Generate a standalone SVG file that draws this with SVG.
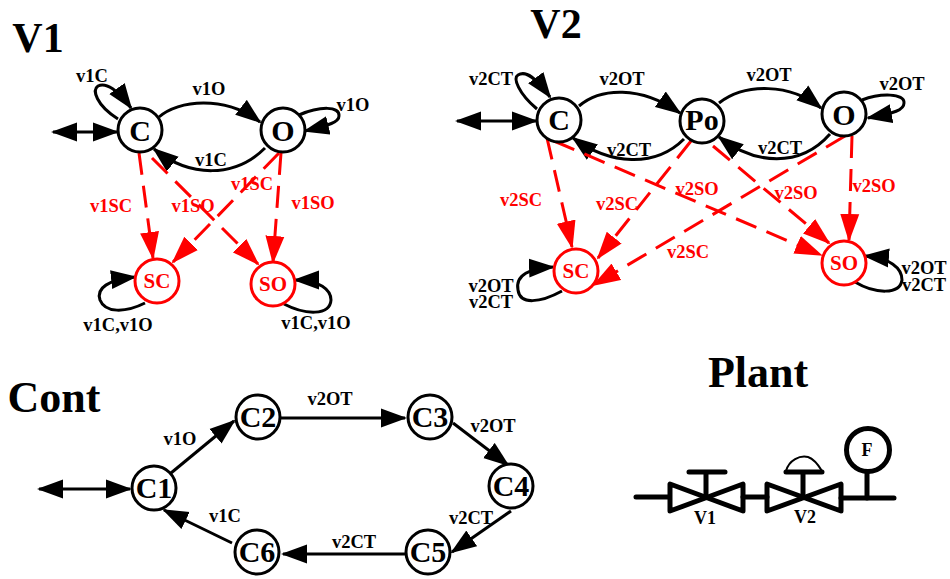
<svg xmlns="http://www.w3.org/2000/svg" width="950" height="579" viewBox="0 0 950 579">
<style>
text{font-family:"Liberation Serif","Times New Roman",serif;font-weight:700;text-anchor:middle;fill:#000}
.t{font-size:42px}
.w{font-size:44px}
.n{font-size:30px}
.c{font-size:30px}
.s{font-size:21px;fill:#f00}
.l{font-size:18.5px}
.f{font-size:18px}
.r{fill:#f00}
circle{fill:#fff;stroke:#000;stroke-width:3}
circle.red{stroke:#f00}
circle.g{stroke-width:5}
.e{fill:none;stroke:#000;stroke-width:3;marker-end:url(#a)}
.b{marker-start:url(#as)}
.d{fill:none;stroke:#f00;stroke-width:3;stroke-dasharray:22 11;marker-end:url(#ar)}
.p{fill:none;stroke:#000;stroke-width:5;stroke-linecap:round;stroke-linejoin:round}
</style>
<defs>
<marker id="a" markerUnits="userSpaceOnUse" markerWidth="26" markerHeight="20" refX="24" refY="10" orient="auto"><path d="M0 .5L26 10L0 19.500z" fill="#000"/></marker>
<marker id="as" markerUnits="userSpaceOnUse" markerWidth="26" markerHeight="20" refX="2" refY="10" orient="auto"><path d="M0 10L26 .5V19.500z" fill="#000"/></marker>
<marker id="ar" markerUnits="userSpaceOnUse" markerWidth="28" markerHeight="20" refX="26" refY="10" orient="auto"><path d="M0 .5L28 10L0 19.500z" fill="#f00"/></marker>
</defs>

<g id="connectors">
<!-- V1 -->
<path class="e b" d="M53 132H117"/>
<path class="e" d="M118 119C96 105 92 90 98 86C106 82 118 90 131 108"/>
<path class="e" d="M159 117C178 100 225 95 260 122"/>
<path class="e" d="M265 148C235 178 190 178 154 149"/>
<path class="e" d="M299 115C320 106 340 106 339 116C339 122 330 125 305 131"/>
<path class="d" d="M139 153L153 258"/>
<path class="d" d="M152 158L258 264"/>
<path class="d" d="M279 153L173 262"/>
<path class="d" d="M281 153L273 262"/>
<path class="e" d="M145 303C125 313 105 313 100 300C96 288 108 280 135 277"/>
<path class="e" d="M284 304C305 315 330 316 331 300C331 290 320 280 295 280"/>
<!-- V2 -->
<path class="e b" d="M457 121H536"/>
<path class="e" d="M537 109C518 93 513 78 518 75C526 70 536 78 550 97"/>
<path class="e" d="M579 106C600 88 640 85 680 113"/>
<path class="e" d="M684 139C655 168 610 165 573 138"/>
<path class="e" d="M719 103C745 83 790 83 821 108"/>
<path class="e" d="M830 134C800 168 755 165 719 137"/>
<path class="e" d="M862 100C880 93 905 93 904 103C904 110 895 113 868 118"/>
<path class="d" d="M547 138L572 247"/>
<path class="d" d="M691 141L598 258"/>
<path class="d" d="M845 136L594 285"/>
<path class="d" d="M554 141L821 255"/>
<path class="d" d="M713 146L829 243"/>
<path class="d" d="M852 136L849 240"/>
<path class="e" d="M562 291C540 303 520 305 518 290C515 275 530 268 553 267"/>
<path class="e" d="M855 282C875 294 900 295 902 280C902 268 890 258 865 256"/>
<!-- Cont -->
<path class="e b" d="M39 489H130"/>
<path class="e" d="M171 473L234 421"/>
<path class="e" d="M280 418H405"/>
<path class="e" d="M453 423L508 465"/>
<path class="e" d="M511 511L452 552"/>
<path class="e" d="M407 554H283"/>
<path class="e" d="M232 543L164 510"/>
</g>

<g id="title-v1"><text class="t" x="38" y="52">V1</text></g>
<g id="v1-C"><circle cx="140" cy="130" r="22"/><text class="n" x="140" y="141">C</text></g>
<g id="v1-O"><circle cx="283" cy="130" r="22"/><text class="n" x="283" y="141">O</text></g>
<g id="v1-SC"><circle class="red" cx="157" cy="281" r="22"/><text class="s" x="157" y="288">SC</text></g>
<g id="v1-SO"><circle class="red" cx="273" cy="284" r="22"/><text class="s" x="273" y="291">SO</text></g>

<g id="title-v2"><text class="t" x="556" y="38">V2</text></g>
<g id="v2-C"><circle cx="559" cy="120" r="22"/><text class="n" x="559" y="130">C</text></g>
<g id="v2-Po"><circle cx="702" cy="121" r="22"/><text class="n" x="702" y="130">Po</text></g>
<g id="v2-O"><circle cx="844" cy="114" r="22"/><text class="n" x="844" y="125">O</text></g>
<g id="v2-SC"><circle class="red" cx="576" cy="271" r="22"/><text class="s" x="576" y="278">SC</text></g>
<g id="v2-SO"><circle class="red" cx="844" cy="263" r="22"/><text class="s" x="844" y="270">SO</text></g>

<g id="title-cont"><text class="w" x="54" y="412">Cont</text></g>
<g id="C1"><circle cx="154" cy="488" r="22"/><text class="c" x="154" y="498">C1</text></g>
<g id="C2"><circle cx="258" cy="417" r="22"/><text class="c" x="258" y="427">C2</text></g>
<g id="C3"><circle cx="430" cy="417" r="22"/><text class="c" x="430" y="427">C3</text></g>
<g id="C4"><circle cx="511" cy="486" r="22"/><text class="c" x="511" y="496">C4</text></g>
<g id="C5"><circle cx="428" cy="552" r="22"/><text class="c" x="428" y="562">C5</text></g>
<g id="C6"><circle cx="257" cy="552" r="22"/><text class="c" x="257" y="562">C6</text></g>

<g id="labels">
<text class="l" x="209" y="95">v1O</text>
<text class="l" x="92" y="82">v1C</text>
<text class="l" x="353" y="111">v1O</text>
<text class="l" x="211" y="166">v1C</text>
<text class="l r" x="111" y="212">v1SC</text>
<text class="l r" x="193" y="212">v1SO</text>
<text class="l r" x="252" y="190">v1SC</text>
<text class="l r" x="313" y="209">v1SO</text>
<text class="l" x="118" y="331">v1C,v1O</text>
<text class="l" x="316" y="329">v1C,v1O</text>

<text class="l" x="491" y="85">v2CT</text>
<text class="l" x="622" y="85">v2OT</text>
<text class="l" x="769" y="81">v2OT</text>
<text class="l" x="902" y="90">v2OT</text>
<text class="l" x="629" y="156">v2CT</text>
<text class="l" x="780" y="154">v2CT</text>
<text class="l r" x="521" y="206">v2SC</text>
<text class="l r" x="617" y="210">v2SC</text>
<text class="l r" x="697" y="195">v2SO</text>
<text class="l r" x="796" y="199">v2SO</text>
<text class="l r" x="874" y="192">v2SO</text>
<text class="l r" x="688" y="258">v2SC</text>
<text class="l" x="491" y="292">v2OT<tspan x="491" y="308">v2CT</tspan></text>
<text class="l" x="924" y="274">v2OT<tspan x="924" y="291">v2CT</tspan></text>

<text class="l" x="180" y="445">v1O</text>
<text class="l" x="330" y="405">v2OT</text>
<text class="l" x="493" y="432">v2OT</text>
<text class="l" x="471" y="524">v2CT</text>
<text class="l" x="354" y="548">v2CT</text>
<text class="l" x="225" y="522">v1C</text>
</g>

<g id="plant">
<text class="w" x="758" y="387">Plant</text>
<path class="p" d="M636 497H668M743 497H767M841 498H894"/>
<path class="p" d="M670 484V511L743 484V511z"/>
<path class="p" d="M767 484V511L841 484V511z"/>
<path class="p" d="M706 497V472M689 472H725"/>
<path class="p" d="M803 497V472M786 472H822"/>
<path d="M786 471C789 460 800 455 808 457C814 459 819 466 822 471" fill="none" stroke="#000" stroke-width="2"/>
<path class="p" d="M867 498V472"/>
<circle class="g" cx="868" cy="450" r="21.500"/>
<text class="f" x="867" y="456">F</text>
<text class="f" x="705" y="524">V1</text>
<text class="f" x="805" y="523">V2</text>
</g>
</svg>
